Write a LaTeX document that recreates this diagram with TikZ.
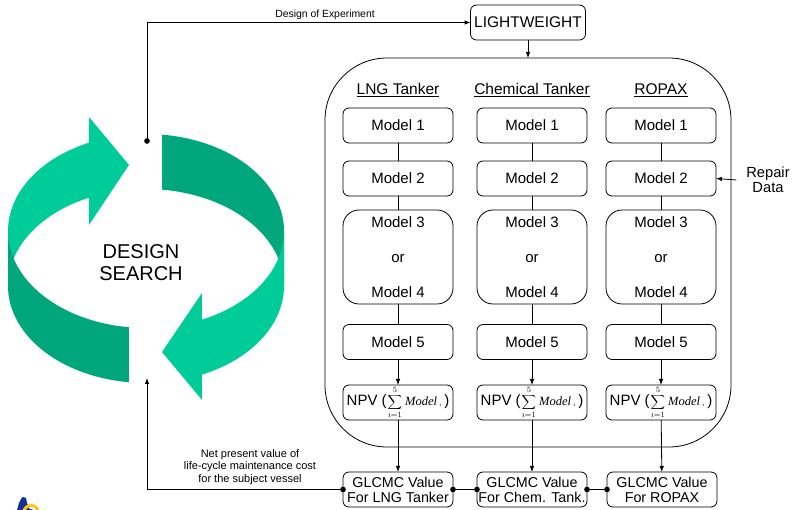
\documentclass[tikz,border=0pt]{standalone}
\usepackage{fontspec}
\setmainfont{Liberation Sans}
\newfontfamily\timesfont{Liberation Serif}
\usetikzlibrary{arrows.meta}

\definecolor{ringlight}{RGB}{0,204,153}
\definecolor{ringdark}{RGB}{0,166,124}
\definecolor{logoblue}{RGB}{20,50,150}
\definecolor{logoyellow}{RGB}{250,200,20}

% sum of the five model costs, used in every NPV box
\newcommand{\npvtext}{NPV (\hspace{1pt}{\fontsize{11}{11}\selectfont$\displaystyle\sum_{i=1}^{5}$}\hspace{3pt}{\fontsize{12.5}{12.5}\selectfont\timesfont\itshape Model}\hspace{2pt}{\fontsize{7}{7}\selectfont$_{i}$}\hspace{2pt})}

\begin{document}
\begin{tikzpicture}[x=1pt,y=-1pt,
  every node/.style={inner sep=0pt, outer sep=0pt},
  conn/.style={line width=0.8pt, draw=black},
  tip/.style={-{Latex[length=6pt,width=4.5pt]}},
  dots/.style={{Circle[length=5.5pt]}-{Circle[length=5.5pt]}, shorten <=-2.75pt, shorten >=-2.75pt},
  modelbox/.style={draw, line width=0.8pt, rounded corners=6pt, minimum width=110pt, minimum height=35pt, font=\fontsize{15}{17}\selectfont},
  tallbox/.style={modelbox, rounded corners=16pt, minimum height=94pt, align=center, font=\fontsize{15}{35}\selectfont},
  npvbox/.style={modelbox, font=\fontsize{15}{17}\selectfont},
  valuebox/.style={modelbox, align=center, font=\fontsize{14.3}{15}\selectfont},
  header/.style={font=\fontsize{15.5}{17}\selectfont},
  note/.style={align=center},
]
\useasboundingbox (0,0) rectangle (793,510);

% ---- design search ring: two ribbon arrows on an elliptic band ----
% back half of the band
\fill[ringlight] plot[domain=180:245.6, samples=40, variable=\t] ({146+138*cos(\t)},{231+97*sin(\t)})
  -- (89,117) -- (129,165) -- (89,225)
  -- plot[domain=245.6:180, samples=40, variable=\t] ({146+138*cos(\t)},{286+97*sin(\t)}) -- cycle;
\fill[ringdark] plot[domain=276.7:360, samples=40, variable=\t] ({146+138*cos(\t)},{231+97*sin(\t)})
  -- plot[domain=360:276.7, samples=40, variable=\t] ({146+138*cos(\t)},{286+97*sin(\t)}) -- cycle;
% front half of the band
\fill[ringdark] plot[domain=180:97.1, samples=40, variable=\t] ({146+138*cos(\t)},{231+97*sin(\t)})
  -- plot[domain=97.1:180, samples=40, variable=\t] ({146+138*cos(\t)},{286+97*sin(\t)}) -- cycle;
\fill[ringlight] plot[domain=0:66.1, samples=40, variable=\t] ({146+138*cos(\t)},{231+97*sin(\t)})
  -- (202,293) -- (162,352) -- (202,400)
  -- plot[domain=66.1:0, samples=40, variable=\t] ({146+138*cos(\t)},{286+97*sin(\t)}) -- cycle;

\node[align=center, font=\fontsize{20}{21.5}\selectfont] (search) at (141,262.5) {DESIGN\\SEARCH};

\coordinate (searchout) at (147,141);
\coordinate (searchin) at (147,378);

% ---- lightweight input and the three vessel columns ----
\node[modelbox, minimum width=115pt, font=\fontsize{15.5}{17}\selectfont] (lw) at (528,22.5) {LIGHTWEIGHT};
\node[draw, line width=0.8pt, rounded corners=62pt, minimum width=406pt, minimum height=389pt] (panel) at (528,252.5) {};

\node[header] (hlng) at (398,90) {\underline{LNG Tanker}};
\node[header] (hchem) at (532,90) {\underline{Chemical Tanker}};
\node[header] (hro) at (661,90) {\underline{ROPAX}};

\foreach \c/\x in {a/398, b/532, c/661} {
  \node[modelbox] (m1\c) at (\x,125.5) {Model 1};
  \node[modelbox] (m2\c) at (\x,178.5) {Model 2};
  \node[tallbox]  (m3\c) at (\x,257) {Model 3\\or\\Model 4};
  \node[modelbox] (m5\c) at (\x,342) {Model 5};
  \node[npvbox]   (npv\c) at (\x,402.5) {\npvtext};
  \draw[conn] (m1\c) -- (m2\c);
  \draw[conn] (m2\c) -- (m3\c);
  \draw[conn] (m3\c) -- (m5\c);
  \draw[conn, tip] (m5\c) -- (npv\c);
}

\node[valuebox] (gla) at (398,489.5) {GLCMC Value\\For LNG Tanker};
\node[valuebox] (glb) at (532,489.5) {GLCMC Value\\For Chem. Tank.};
\node[valuebox] (glc) at (662,489.5) {GLCMC Value\\For ROPAX};

\draw[conn, tip] (npva) -- (gla);
\draw[conn, tip] (npvb) -- (glb);
\draw[conn, tip] (npvc) -- (glc);

\draw[conn, dots] (gla.east) -- (glb.west);
\draw[conn, dots] (glb.east) -- (glc.west);

\draw[conn, tip] (lw.south) -- (panel.north);

% ---- repair data input ----
\node[note, font=\fontsize{14.7}{15}\selectfont] (repair) at (768,180) {Repair\\Data};
\draw[conn, tip] ([xshift=-10pt]repair.west) -- (m2c.east);

% ---- loop between design search and the cost evaluation ----
\draw[conn, {Circle[length=5.5pt]}-{Latex[length=6pt,width=4.5pt]}, shorten <=-2.75pt] (searchout) |- (lw.west);
\node[font=\fontsize{10.4}{12}\selectfont] (doe) at (325,15) {Design of Experiment};

\draw[conn, {Circle[length=5.5pt]}-{Latex[length=6pt,width=4.5pt]}, shorten <=-2.75pt] (gla.west) -| (searchin);
\node[note, font=\fontsize{11}{12.5}\selectfont] (npvnote) at (250,467) {Net present value of\\life-cycle maintenance cost\\for the subject vessel};

% ---- corner emblem ----
\begin{scope}
  \clip (0,0) rectangle (793,510);
  \fill[logoblue] (17,510) -- (19,503) -- (21,499) -- (23,497) -- (26,498) -- (27,503) -- (30,510) -- cycle;
  \draw[logoyellow, line width=3pt] (31,513) circle (7.5);
  \fill[logoblue] (31,513) circle (4);
\end{scope}
\end{tikzpicture}
\end{document}
